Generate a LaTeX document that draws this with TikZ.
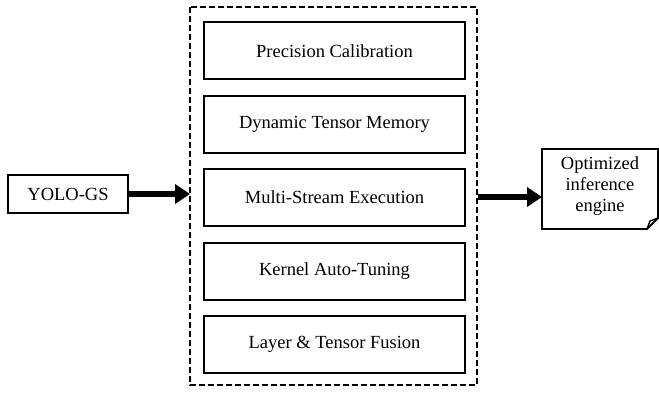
\documentclass[tikz,border=0pt]{standalone}
\usepackage{fontspec}
\setmainfont{Liberation Serif}
\usetikzlibrary{arrows.meta}
\begin{document}
\begin{tikzpicture}[x=1pt,y=-1pt,
  stage/.style={draw, line width=2pt, minimum width=261pt, minimum height=57pt, inner sep=0pt, font=\fontsize{18.5}{22}\selectfont},
  group/.style={draw, line width=2.8pt, dash pattern=on 6pt off 3pt},
  flow/.style={line width=6.5pt, -{Triangle[length=15pt,width=19pt]}},
  lbl/.style={font=\fontsize{18.5}{22}\selectfont}]
\useasboundingbox (0,0) rectangle (659,393);
% outer dashed group
\draw[group] (190,7) rectangle (477,385);
% stages
\node[stage] (s1) at (334.5,51) {Precision Calibration};
\node[stage] (s2) at (334.5,124.5) {Dynamic Tensor Memory};
\node[stage] (s3) at (334.5,197.5) {Multi-Stream Execution};
\node[stage] (s4) at (334.5,271) {Kernel Auto-Tuning};
\node[stage] (s5) at (334.5,344.5) {Layer \& Tensor Fusion};
% input
\node[draw, line width=2pt, minimum width=120pt, minimum height=38pt, inner sep=0pt, lbl] (in) at (68,194) {YOLO-GS};
\coordinate (gl) at (190,194);
\draw[flow] (in.east) -- (gl);
% output with folded corner
\coordinate (gr) at (478,197);
\draw[line width=1.8pt, line join=miter] (542,149) -- (658,149) -- (658,218) -- (647,229) -- (542,229) -- cycle;
\draw[line width=1.4pt] (658,218) -- (650,221) -- (647,229);
\node[lbl, align=center, inner sep=0pt, text width=116pt] (out) at (600,186) {Optimized\\[-1pt]inference\\[-1pt]engine};
\coordinate (ol) at (542,197);
\draw[flow] (gr) -- (ol);
\end{tikzpicture}
\end{document}
